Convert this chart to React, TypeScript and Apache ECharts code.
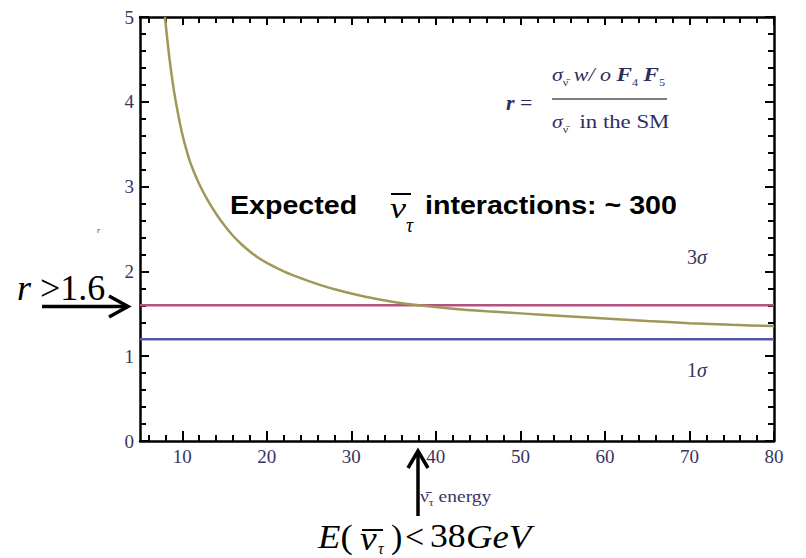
import React, { useEffect, useRef } from 'react';
import * as echarts from 'echarts';

// ---- data ----
const energy = [7.95, 8.5, 9, 9.5, 10, 10.5, 11, 12, 13, 14, 15, 16, 17, 18, 19, 20, 22, 24, 26, 28, 30, 32, 35, 38, 42, 46, 50, 55, 60, 65, 70, 75, 80];
const ratio = [5.0, 4.5, 4.14, 3.86, 3.62, 3.43, 3.27, 3.03, 2.84, 2.68, 2.54, 2.42, 2.32, 2.235, 2.16, 2.1, 2.0, 1.92, 1.85, 1.79, 1.74, 1.695, 1.64, 1.6, 1.56, 1.53, 1.505, 1.475, 1.445, 1.415, 1.39, 1.37, 1.355];
const threeSigmaLevel = 1.6;
const oneSigmaLevel = 1.2;
const xMin = 5;
const xMax = 80;
const yMin = 0;
const yMax = 5;
const yInterval = 1;
const xMajorTicks = [10, 20, 30, 40, 50, 60, 70, 80];
const xMinorTicks = [6, 8, 12, 14, 16, 18, 22, 24, 26, 28, 32, 34, 36, 38, 42, 44, 46, 48, 52, 54, 56, 58, 62, 64, 66, 68, 72, 74, 76, 78];

const LABEL = '#3a3462';
const SERIF = '"Liberation Serif", "Times New Roman", serif';
const SANS = '"Liberation Sans", Arial, sans-serif';

function txt(x: number, y: number, text: string, s: any = {}, extra: any = {}) {
  return {
    type: 'text',
    x,
    y,
    ...extra,
    style: {
      text,
      fill: '#000',
      fontFamily: SERIF,
      fontSize: 20,
      align: 'left',
      verticalAlign: 'middle',
      textAlign: 'left',
      textVerticalAlign: 'middle',
      ...s,
    },
  };
}

function ln(x1: number, y1: number, x2: number, y2: number, w: number, c = '#000') {
  return { type: 'line', shape: { x1, y1, x2, y2 }, style: { stroke: c, lineWidth: w } };
}

function pl(points: number[][], w: number, c = '#000') {
  return { type: 'polyline', shape: { points }, style: { stroke: c, lineWidth: w, fill: 'none' } };
}

export default function App() {
  const ref = useRef<HTMLDivElement>(null);
  useEffect(() => {
    const chart = echarts.init(ref.current!, null, { renderer: 'svg' });
    const tickStyle = { color: '#000', width: 2 };
    const curve = energy.map((e, i) => [e, ratio[i]]);
    const option: any = {
      animation: false,
      backgroundColor: '#fff',
      grid: { left: 140, right: 32, top: 17, bottom: 117, containLabel: false },
      xAxis: [
        {
          type: 'value', min: xMin, max: xMax, position: 'bottom',
          axisLine: { show: true, lineStyle: { color: '#000', width: 2.5 } },
          axisTick: { show: true, inside: true, length: 10, customValues: xMajorTicks, lineStyle: tickStyle },
          axisLabel: { show: true, customValues: xMajorTicks, color: LABEL, fontFamily: SERIF, fontSize: 19, margin: 6 },
          splitLine: { show: false },
        },
        {
          type: 'value', min: xMin, max: xMax, position: 'bottom',
          axisLine: { show: false },
          axisTick: { show: true, inside: true, length: 6, customValues: xMinorTicks, lineStyle: tickStyle },
          axisLabel: { show: false },
          splitLine: { show: false },
        },
        {
          type: 'value', min: xMin, max: xMax, position: 'top',
          axisLine: { show: true, lineStyle: { color: '#000', width: 2.5 } },
          axisTick: { show: true, inside: true, length: 8, customValues: xMajorTicks, lineStyle: tickStyle },
          axisLabel: { show: false },
          splitLine: { show: false },
        },
        {
          type: 'value', min: xMin, max: xMax, position: 'top',
          axisLine: { show: false },
          axisTick: { show: true, inside: true, length: 6, customValues: xMinorTicks, lineStyle: tickStyle },
          axisLabel: { show: false },
          splitLine: { show: false },
        },
      ],
      yAxis: [
        {
          type: 'value', min: yMin, max: yMax, interval: yInterval, position: 'left',
          axisLine: { show: true, lineStyle: { color: '#000', width: 2.5 } },
          axisTick: { show: true, inside: true, length: 9, lineStyle: tickStyle },
          minorTick: { show: true, splitNumber: 5, length: 6, lineStyle: tickStyle },
          axisLabel: { show: true, color: LABEL, fontFamily: SERIF, fontSize: 19, margin: 6 },
          splitLine: { show: false },
          minorSplitLine: { show: false },
        },
        {
          type: 'value', min: yMin, max: yMax, interval: yInterval, position: 'right',
          axisLine: { show: true, lineStyle: { color: '#000', width: 2.5 } },
          axisTick: { show: true, inside: true, length: 9, lineStyle: tickStyle },
          minorTick: { show: true, splitNumber: 5, length: 6, lineStyle: tickStyle },
          axisLabel: { show: false },
          splitLine: { show: false },
          minorSplitLine: { show: false },
        },
      ],
      series: [
        {
          type: 'line', xAxisIndex: 0, yAxisIndex: 0, symbol: 'none', clip: true,
          data: [[xMin, threeSigmaLevel], [xMax, threeSigmaLevel]],
          lineStyle: { color: '#b4517f', width: 2.5 },
        },
        {
          type: 'line', xAxisIndex: 0, yAxisIndex: 0, symbol: 'none', clip: true,
          data: [[xMin, oneSigmaLevel], [xMax, oneSigmaLevel]],
          lineStyle: { color: '#5656ac', width: 2.5 },
        },
        {
          type: 'line', xAxisIndex: 0, yAxisIndex: 0, symbol: 'none', clip: true, smooth: 0.3,
          data: curve,
          lineStyle: { color: '#a09858', width: 2.5 },
        },
      ],
      graphic: {
        elements: [
          // formula
          txt(506, 102, '{i|r} =', { fontSize: 22, fill: '#2e2e5e', rich: { i: { fontStyle: 'italic', fontWeight: 'bold', fontSize: 22, fontFamily: SERIF, fill: '#2e2e5e' } } }),
          txt(552, 75, '{i|σ}{s|ν̄} {i|w/ o }{b|F}{s|4} {b|F}{s|5}', {
            fontSize: 18, fill: '#2e2e5e',
            rich: {
              i: { fontStyle: 'italic', fontSize: 18, fontFamily: SERIF, fill: '#2e2e5e', lineHeight: 24, verticalAlign: 'middle' },
              b: { fontStyle: 'italic', fontWeight: 'bold', fontSize: 19, fontFamily: SERIF, fill: '#2e2e5e', lineHeight: 24, verticalAlign: 'middle' },
              s: { fontSize: 10, fontFamily: SERIF, fill: '#2e2e5e', lineHeight: 24, verticalAlign: 'bottom' },
            },
          }, { scaleX: 1.22 }),
          ln(552, 99, 667, 99, 1.5, '#555'),
          txt(552, 122, '{i|σ}{s|ν̄}  in the SM', {
            fontSize: 19, fill: '#2e2e5e',
            rich: {
              i: { fontStyle: 'italic', fontSize: 18, fontFamily: SERIF, fill: '#2e2e5e', lineHeight: 24, verticalAlign: 'middle' },
              s: { fontSize: 10, fontFamily: SERIF, fill: '#2e2e5e', lineHeight: 24, verticalAlign: 'bottom' },
            },
          }, { scaleX: 1.2 }),
          // expected interactions
          txt(230, 205, 'Expected', { fontFamily: SANS, fontWeight: 'bold', fontSize: 26 }, { scaleX: 1.1 }),
          txt(390, 208, 'ν', { fontStyle: 'italic', fontSize: 30 }, { scaleX: 1.2 }),
          ln(391, 194, 411, 194, 2),
          txt(406, 225, 'τ', { fontStyle: 'italic', fontSize: 20 }),
          txt(425, 205, 'interactions: ~ 300', { fontFamily: SANS, fontWeight: 'bold', fontSize: 26 }, { scaleX: 1.1 }),
          // sigma labels
          txt(687, 257, '3{i|σ}', { fontSize: 20, fill: LABEL, rich: { i: { fontStyle: 'italic', fontSize: 20, fontFamily: SERIF, fill: LABEL } } }),
          txt(687, 370, '1{i|σ}', { fontSize: 20, fill: LABEL, rich: { i: { fontStyle: 'italic', fontSize: 20, fontFamily: SERIF, fill: LABEL } } }),
          // tiny y-axis name
          txt(97, 230, 'r', { fontSize: 8, fill: LABEL, fontStyle: 'italic' }),
          // r > 1.6 annotation
          txt(17, 288, '{i|r} >1.6', { fontSize: 36, rich: { i: { fontStyle: 'italic', fontSize: 36, fontFamily: SERIF } } }),
          ln(42, 306.5, 126, 306.5, 3.5),
          pl([[109, 296], [128, 306.5], [109, 317]], 3.5),
          // vertical arrow
          ln(418, 516, 418, 454, 3.5),
          pl([[408, 468], [418, 451], [428, 468]], 3.5),
          // x-axis name
          txt(420, 497, 'ν̄{s|τ} energy', { fontSize: 16, fill: LABEL, rich: { s: { fontSize: 10, fontFamily: SERIF, fill: LABEL, verticalAlign: 'bottom', lineHeight: 20 } } }, { scaleX: 1.22 }),
          // E(nu_tau) < 38 GeV
          txt(318, 536, '{i|E}(', { fontSize: 34, rich: { i: { fontStyle: 'italic', fontSize: 34, fontFamily: SERIF } } }, { scaleX: 1.08 }),
          txt(360, 539, 'ν', { fontStyle: 'italic', fontSize: 34 }, { scaleX: 1.1 }),
          ln(362, 530, 383, 530, 2),
          txt(378, 548, 'τ', { fontStyle: 'italic', fontSize: 16 }),
          txt(391, 536, ')', { fontSize: 34 }),
          txt(405, 536, '<', { fontSize: 34 }),
          txt(430, 536, '38', { fontSize: 34 }, { scaleX: 1.05 }),
          txt(466, 536, 'GeV', { fontSize: 34, fontStyle: 'italic' }, { scaleX: 1.08 }),
        ],
      },
    };
    chart.setOption(option);
    return () => chart.dispose();
  }, []);
  return <div ref={ref} style={{ position: 'absolute', left: 0, top: 0, width: 806, height: 558, background: '#fff' }} />;
}
